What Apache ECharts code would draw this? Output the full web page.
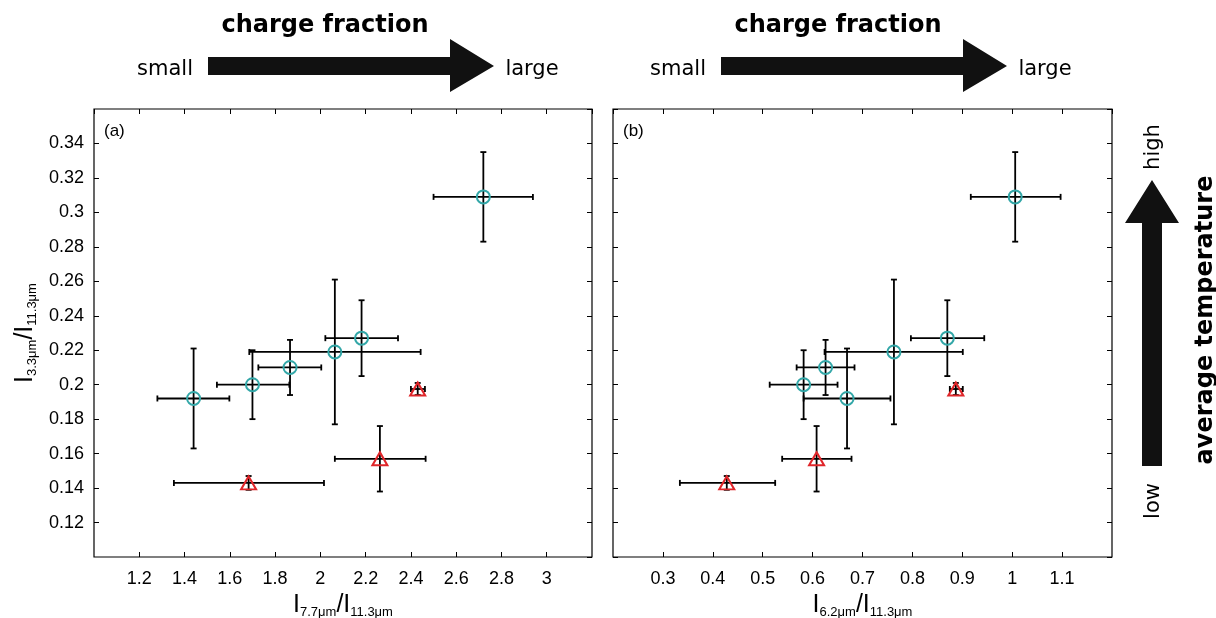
<!DOCTYPE html>
<html><head><meta charset="utf-8">
<script src="https://cdn.jsdelivr.net/npm/echarts@6/dist/echarts.min.js"></script>
<style>html,body{margin:0;padding:0;background:#fff}#c{width:1216px;height:618px}</style>
</head><body><div id="c"></div>
<script>
// ---- shared y values: I3.3um / I11.3um ----
const circY   = [0.192, 0.200, 0.210, 0.219, 0.227, 0.309];
const circYLo = [0.163, 0.180, 0.194, 0.177, 0.205, 0.283];
const circYHi = [0.221, 0.220, 0.226, 0.261, 0.249, 0.335];
const triY    = [0.143, 0.157, 0.1975];
const triYLo  = [0.139, 0.138, 0.194];
const triYHi  = [0.147, 0.176, 0.201];
// ---- panel (a) x: I7.7um / I11.3um ----
const circXa   = [1.44, 1.70, 1.866, 2.064, 2.182, 2.72];
const circXaLo = [1.28, 1.543, 1.726, 1.686, 2.022, 2.50];
const circXaHi = [1.598, 1.863, 2.004, 2.443, 2.343, 2.939];
const triXa    = [1.683, 2.263, 2.430];
const triXaLo  = [1.353, 2.064, 2.400];
const triXaHi  = [2.016, 2.465, 2.462];
// ---- panel (b) x: I6.2um / I11.3um ----
const circXb   = [0.669, 0.582, 0.626, 0.763, 0.870, 1.006];
const circXbLo = [0.582, 0.514, 0.568, 0.624, 0.797, 0.917];
const circXbHi = [0.756, 0.650, 0.684, 0.901, 0.944, 1.097];
const triXb    = [0.428, 0.608, 0.887];
const triXbLo  = [0.334, 0.539, 0.875];
const triXbHi  = [0.525, 0.678, 0.901];
// ---- axis ranges (tick labels) ----
const yAxisRange = {min: 0.10, max: 0.36, interval: 0.02};
const xAxisRangeA = {min: 1.0, max: 3.2, interval: 0.2};
const xAxisRangeB = {min: 0.2, max: 1.2, interval: 0.1};
// ---- texts ----
const panelLabels = ['(a)', '(b)'];
const topTitle = 'charge fraction';
const topLeft = 'small', topRight = 'large';
const sideTitle = 'average temperature';
const sideTop = 'high', sideBottom = 'low';

const TEAL = '#33a7a8', RED = '#e0262a';
const LFONT = 'Liberation Sans';
const CFONT = 'DejaVu Sans';

function zip(x, y, xl, xh, yl, yh) { return x.map((v, i) => [v, y[i], xl[i], xh[i], yl[i], yh[i]]); }

function errSeries(ai, data) {
  return {
    type: 'custom', xAxisIndex: ai * 2, yAxisIndex: ai * 2, data: data, z: 2, silent: true,
    encode: {x: 0, y: 1},
    renderItem: function (params, api) {
      const x = api.value(0), y = api.value(1);
      const c = api.coord([x, y]);
      const l = api.coord([api.value(2), y]), r = api.coord([api.value(3), y]);
      const b = api.coord([x, api.value(4)]), t = api.coord([x, api.value(5)]);
      const h = 3;
      const st = {stroke: '#000', lineWidth: 1.8};
      return {type: 'group', children: [
        {type: 'line', shape: {x1: l[0], y1: c[1], x2: r[0], y2: c[1]}, style: st},
        {type: 'line', shape: {x1: l[0], y1: c[1] - h, x2: l[0], y2: c[1] + h}, style: st},
        {type: 'line', shape: {x1: r[0], y1: c[1] - h, x2: r[0], y2: c[1] + h}, style: st},
        {type: 'line', shape: {x1: c[0], y1: b[1], x2: c[0], y2: t[1]}, style: st},
        {type: 'line', shape: {x1: c[0] - h, y1: b[1], x2: c[0] + h, y2: b[1]}, style: st},
        {type: 'line', shape: {x1: c[0] - h, y1: t[1], x2: c[0] + h, y2: t[1]}, style: st}
      ]};
    }
  };
}

function scat(ai, xs, ys, symbol, size, color) {
  return {
    type: 'scatter', xAxisIndex: ai * 2, yAxisIndex: ai * 2, z: 3, silent: true,
    symbol: symbol, symbolSize: size,
    data: xs.map((v, i) => [v, ys[i]]),
    itemStyle: {color: 'rgba(0,0,0,0)', borderColor: color, borderWidth: 2, opacity: 1}
  };
}

const nameRich = {
  i: {fontFamily: LFONT, fontSize: 25, lineHeight: 25, verticalAlign: 'top', color: '#000'},
  s: {fontFamily: LFONT, fontSize: 13, lineHeight: 13, padding: [13, 0, 0, 0], verticalAlign: 'top', color: '#000'}
};

function xAx(gi, rng, name, pos) {
  const main = pos === 'bottom';
  return Object.assign({
    type: 'value', gridIndex: gi, position: pos,
    axisLine: {show: false, onZero: false},
    axisTick: {show: true, inside: true, length: 5, lineStyle: {color: '#000', width: 1}},
    splitLine: {show: false},
    axisLabel: {show: main, color: '#000', fontFamily: LFONT, fontSize: 18, margin: 13,
      showMinLabel: false, showMaxLabel: false},
    name: main ? name : '', nameLocation: 'middle', nameGap: 29,
    nameTextStyle: {rich: nameRich}
  }, rng);
}
function yAx(gi, rng, name, pos, labels) {
  return Object.assign({
    type: 'value', gridIndex: gi, position: pos,
    axisLine: {show: false, onZero: false},
    axisTick: {show: true, inside: true, length: 5, lineStyle: {color: '#000', width: 1}},
    splitLine: {show: false},
    axisLabel: {show: labels, color: '#000', fontFamily: LFONT, fontSize: 18, margin: 10,
      showMinLabel: false, showMaxLabel: false},
    name: labels ? name : '', nameLocation: 'middle', nameGap: 56,
    nameTextStyle: {rich: nameRich}
  }, rng);
}

const xNameA = '{i|I}{s|7.7\u03bcm}{i|/I}{s|11.3\u03bcm}';
const xNameB = '{i|I}{s|6.2\u03bcm}{i|/I}{s|11.3\u03bcm}';
const yName = '{i|I}{s|3.3\u03bcm}{i|/I}{s|11.3\u03bcm}';

// decorative arrows & texts
function hArrow(dx) {
  return {type: 'polygon', silent: true, shape: {points: [
    [208 + dx, 57], [450 + dx, 57], [450 + dx, 39], [494 + dx, 66], [450 + dx, 92], [450 + dx, 75], [208 + dx, 75]
  ]}, style: {fill: '#111'}};
}
function txt(x, y, text, size, weight, rot) {
  return {type: 'text', x: x, y: y, rotation: rot || 0, silent: true,
    style: {text: text, fill: '#000', font: (weight || 'normal') + ' ' + size + 'px "' + CFONT + '"',
      align: 'center', verticalAlign: 'middle'}};
}
const graphics = [];
[0, 513].forEach(function (dx) {
  graphics.push(hArrow(dx));
  graphics.push(txt(325 + dx, 26, topTitle, 24, 'bold'));
  graphics.push(txt(165 + dx, 70, topLeft, 21));
  graphics.push(txt(532 + dx, 70, topRight, 21));
});
graphics.push({type: 'polygon', silent: true, shape: {points: [
  [1142, 466], [1142, 223], [1125, 223], [1152, 180], [1179, 223], [1162, 223], [1162, 466]
]}, style: {fill: '#111'}});
graphics.push(txt(1154, 147, sideTop, 21, 'normal', Math.PI / 2));
graphics.push(txt(1154, 501, sideBottom, 21, 'normal', Math.PI / 2));
graphics.push(txt(1206, 320, sideTitle, 24, 'bold', Math.PI / 2));
graphics.push({type: 'text', x: 104, y: 131, silent: true, style: {text: panelLabels[0], fill: '#000', font: '17px "' + LFONT + '"', verticalAlign: 'middle'}});
graphics.push({type: 'text', x: 623, y: 131, silent: true, style: {text: panelLabels[1], fill: '#000', font: '17px "' + LFONT + '"', verticalAlign: 'middle'}});

const chart = echarts.init(document.getElementById('c'), null, {renderer: 'canvas'});
chart.setOption({
  backgroundColor: '#fff',
  animation: false,
  grid: [
    {left: 94, top: 109, width: 498, height: 448, containLabel: false, outerBoundsMode: 'none', show: true, borderColor: '#000', borderWidth: 1.2, backgroundColor: '#fff'},
    {left: 613, top: 109, width: 499, height: 448, containLabel: false, outerBoundsMode: 'none', show: true, borderColor: '#000', borderWidth: 1.2, backgroundColor: '#fff'}
  ],
  xAxis: [
    xAx(0, xAxisRangeA, xNameA, 'bottom'), xAx(0, xAxisRangeA, '', 'top'),
    xAx(1, xAxisRangeB, xNameB, 'bottom'), xAx(1, xAxisRangeB, '', 'top')
  ],
  yAxis: [
    yAx(0, yAxisRange, yName, 'left', true), yAx(0, yAxisRange, '', 'right', false),
    yAx(1, yAxisRange, '', 'left', false), yAx(1, yAxisRange, '', 'right', false)
  ],
  series: [
    errSeries(0, zip(circXa, circY, circXaLo, circXaHi, circYLo, circYHi)),
    errSeries(0, zip(triXa, triY, triXaLo, triXaHi, triYLo, triYHi)),
    scat(0, circXa, circY, 'circle', 13, TEAL),
    scat(0, triXa, triY, 'triangle', [15, 13], RED),
    errSeries(1, zip(circXb, circY, circXbLo, circXbHi, circYLo, circYHi)),
    errSeries(1, zip(triXb, triY, triXbLo, triXbHi, triYLo, triYHi)),
    scat(1, circXb, circY, 'circle', 13, TEAL),
    scat(1, triXb, triY, 'triangle', [15, 13], RED)
  ],
  graphic: graphics
});
</script>
</body></html>
